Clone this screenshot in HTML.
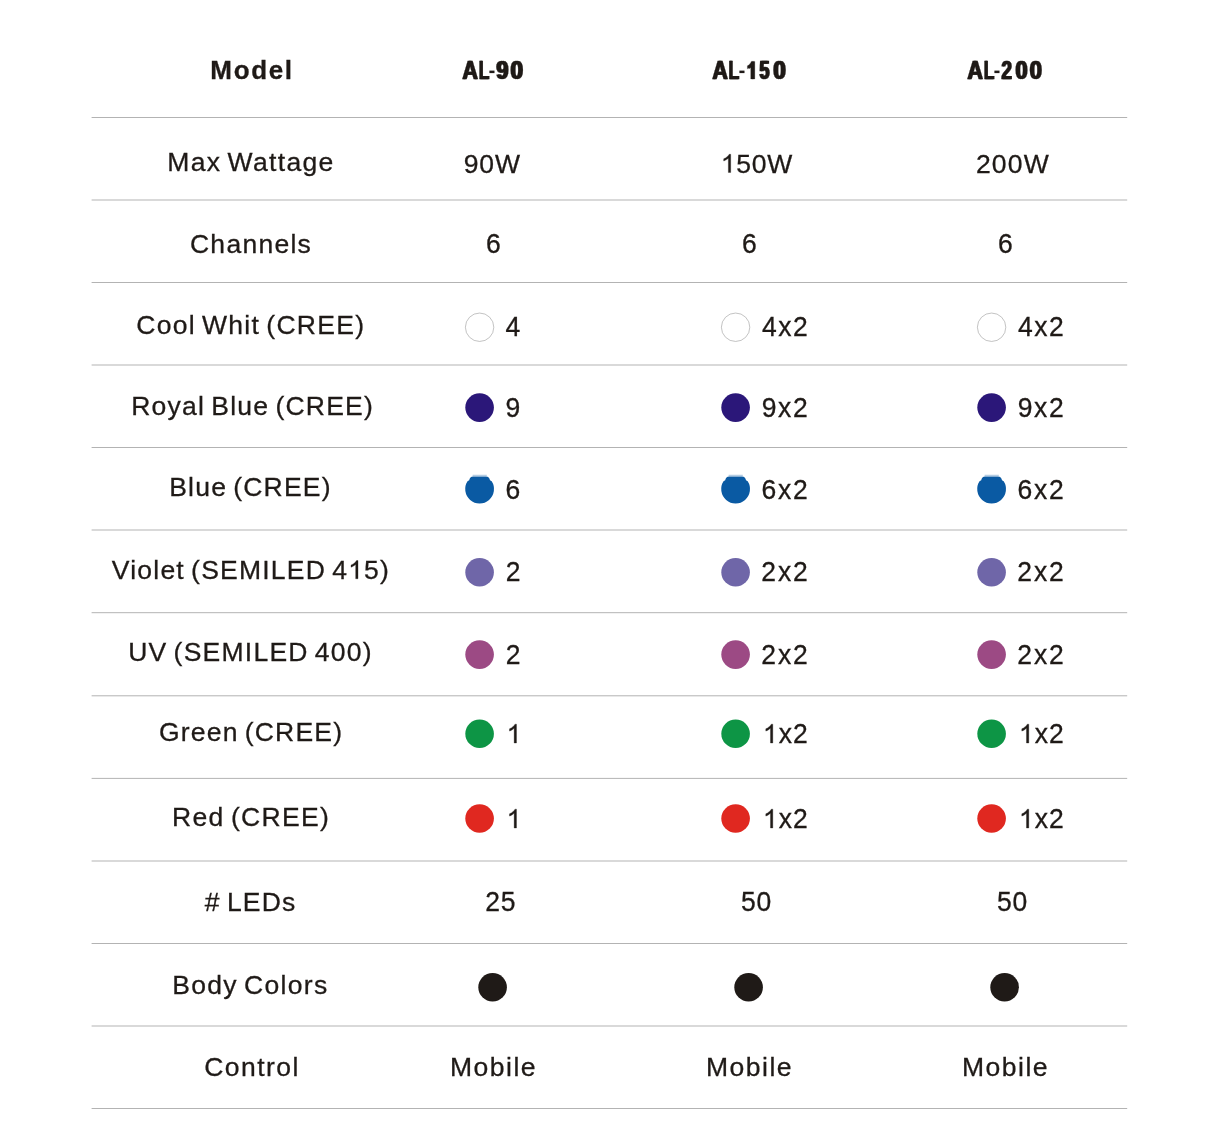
<!DOCTYPE html>
<html><head><meta charset="utf-8"><title>Model comparison</title>
<style>
html,body{margin:0;padding:0;background:#fff;}
body{width:1220px;height:1131px;overflow:hidden;font-family:"Liberation Sans",sans-serif;}
svg{display:block;position:absolute;left:0;top:0;will-change:transform;}
text{font-family:"Liberation Sans",sans-serif;font-size:26px;fill:#1f1a17;white-space:pre;word-spacing:-2.4px;stroke:#1f1a17;stroke-width:0.3px;}
.o{fill:#1f1a17;stroke:#1f1a17;stroke-width:24px;}
.b,.c{font-weight:bold;}
.h{fill:none;stroke:none;}
</style></head><body>
<svg width="1220" height="1131" viewBox="0 0 1220 1131">
<g stroke="#b3b3b3" stroke-width="1" fill="none">
<line x1="91.6" x2="1127.2" y1="117.5" y2="117.5"/>
<line x1="91.6" x2="1127.2" y1="200.0" y2="200.0"/>
<line x1="91.6" x2="1127.2" y1="282.5" y2="282.5"/>
<line x1="91.6" x2="1127.2" y1="365.0" y2="365.0"/>
<line x1="91.6" x2="1127.2" y1="447.5" y2="447.5"/>
<line x1="91.6" x2="1127.2" y1="530.0" y2="530.0"/>
<line x1="91.6" x2="1127.2" y1="612.7" y2="612.7"/>
<line x1="91.6" x2="1127.2" y1="695.8" y2="695.8"/>
<line x1="91.6" x2="1127.2" y1="778.4" y2="778.4"/>
<line x1="91.6" x2="1127.2" y1="861.0" y2="861.0"/>
<line x1="91.6" x2="1127.2" y1="943.5" y2="943.5"/>
<line x1="91.6" x2="1127.2" y1="1026.0" y2="1026.0"/>
<line x1="91.6" x2="1127.2" y1="1108.5" y2="1108.5"/>
</g>
<circle cx="479.6" cy="327.25" r="14.2" fill="#fff" stroke="#9a9a9a" stroke-width="0.6"/>
<circle cx="735.6" cy="327.25" r="14.2" fill="#fff" stroke="#9a9a9a" stroke-width="0.6"/>
<circle cx="991.6" cy="327.25" r="14.2" fill="#fff" stroke="#9a9a9a" stroke-width="0.6"/>
<circle cx="479.6" cy="407.6" r="14.3" fill="#2b1779"/>
<circle cx="735.6" cy="407.6" r="14.3" fill="#2b1779"/>
<circle cx="991.6" cy="407.6" r="14.3" fill="#2b1779"/>
<path fill="#0a5aa3" d="M467.5 481.2A14.4 14.4 0 1 0 491.7 481.2L490 480.2Q489.4 476.4 486 476.4L473.2 476.4Q469.8 476.4 469.2 480.2Z"/>
<line x1="472.6" x2="486.8" y1="475.3" y2="475.3" stroke="#0a5aa3" stroke-opacity="0.55" stroke-width="0.7"/>
<path fill="#0a5aa3" d="M723.5 481.2A14.4 14.4 0 1 0 747.7 481.2L746 480.2Q745.4 476.4 742 476.4L729.2 476.4Q725.8 476.4 725.2 480.2Z"/>
<line x1="728.6" x2="742.8" y1="475.3" y2="475.3" stroke="#0a5aa3" stroke-opacity="0.55" stroke-width="0.7"/>
<path fill="#0a5aa3" d="M979.5 481.2A14.4 14.4 0 1 0 1003.7 481.2L1002 480.2Q1001.4 476.4 998 476.4L985.2 476.4Q981.8 476.4 981.2 480.2Z"/>
<line x1="984.6" x2="998.8" y1="475.3" y2="475.3" stroke="#0a5aa3" stroke-opacity="0.55" stroke-width="0.7"/>
<circle cx="479.6" cy="572.25" r="14.3" fill="#6f66a8"/>
<circle cx="735.6" cy="572.25" r="14.3" fill="#6f66a8"/>
<circle cx="991.6" cy="572.25" r="14.3" fill="#6f66a8"/>
<circle cx="479.6" cy="654.6" r="14.3" fill="#9c4a84"/>
<circle cx="735.6" cy="654.6" r="14.3" fill="#9c4a84"/>
<circle cx="991.6" cy="654.6" r="14.3" fill="#9c4a84"/>
<circle cx="479.6" cy="733.75" r="14.3" fill="#0d9545"/>
<circle cx="735.6" cy="733.75" r="14.3" fill="#0d9545"/>
<circle cx="991.6" cy="733.75" r="14.3" fill="#0d9545"/>
<circle cx="479.6" cy="818.5" r="14.3" fill="#e02820"/>
<circle cx="735.6" cy="818.5" r="14.3" fill="#e02820"/>
<circle cx="991.6" cy="818.5" r="14.3" fill="#e02820"/>
<circle cx="492.6" cy="987.25" r="14.3" fill="#1f1a17"/>
<circle cx="748.6" cy="987.25" r="14.3" fill="#1f1a17"/>
<circle cx="1004.6" cy="987.25" r="14.3" fill="#1f1a17"/>
<g transform="translate(462.38 79) scale(0.8288 0.9850)"><text class="b" x="-0.75">A</text><text class="b" x="0.75">A</text></g>
<g transform="translate(478.64 79) scale(0.6670 0.9850)"><text class="b" x="-0.75">L</text><text class="b" x="0.75">L</text></g>
<rect x="489.4" y="70.6" width="5.1" height="2.5" fill="#1f1a17"/>
<g transform="translate(496.38 79) scale(0.8291 0.9850)"><text class="b" x="-1">9</text><text class="b" x="1">9</text></g>
<g transform="translate(510.68 79) scale(0.8562 0.9850)"><text class="b" x="-1">0</text><text class="b" x="1">0</text></g>
<g transform="translate(712.38 79) scale(0.8235 0.9850)"><text class="b" x="-0.75">A</text><text class="b" x="0.75">A</text></g>
<g transform="translate(728.53 79) scale(0.6737 0.9850)"><text class="b" x="-0.75">L</text><text class="b" x="0.75">L</text></g>
<rect x="739.4" y="70.6" width="5.1" height="2.5" fill="#1f1a17"/>
<g transform="translate(746.63 79) scale(0.7272 0.9850)"><path class="o" transform="translate(-1 0) scale(0.012695 -0.012152)" d="M806 0H525V1059Q371 915 162 846V1101Q272 1137 401 1237.5T578 1472H806Z"/><path class="o" transform="translate(1 0) scale(0.012695 -0.012152)" d="M806 0H525V1059Q371 915 162 846V1101Q272 1137 401 1237.5T578 1472H806Z"/></g>
<g transform="translate(759.54 79) scale(0.6896 0.9850)"><text class="b" x="-1">5</text><text class="b" x="1">5</text></g>
<g transform="translate(773.38 79) scale(0.8562 0.9850)"><text class="b" x="-1">0</text><text class="b" x="1">0</text></g>
<g transform="translate(967.38 79) scale(0.8288 0.9850)"><text class="b" x="-0.75">A</text><text class="b" x="0.75">A</text></g>
<g transform="translate(983.64 79) scale(0.6670 0.9850)"><text class="b" x="-0.75">L</text><text class="b" x="0.75">L</text></g>
<rect x="994.4" y="70.6" width="5.1" height="2.5" fill="#1f1a17"/>
<g transform="translate(1001.37 79) scale(0.7370 0.9850)"><text class="b" x="-1">2</text><text class="b" x="1">2</text></g>
<g transform="translate(1015.48 79) scale(0.8354 0.9850)"><text class="b" x="-1">0</text><text class="b" x="1">0</text></g>
<g transform="translate(1029.78 79) scale(0.8423 0.9850)"><text class="b" x="-1">0</text><text class="b" x="1">0</text></g>
<g transform="translate(210.34 79.25)"><text id="h0" class="b" style="letter-spacing:1.654px">Model</text></g>
<g transform="translate(167.24 170.75) scale(1.0200 1.0000)"><text id="l0" style="letter-spacing:1.311px">Max Wattage</text></g>
<g transform="translate(189.96 252.5) scale(1.0200 1.0000)"><text id="l1" style="letter-spacing:1.241px">Channels</text></g>
<g transform="translate(136.26 333.75) scale(1.0200 1.0000)"><text id="l2" style="letter-spacing:1.246px">Cool Whit (CREE)</text></g>
<g transform="translate(131.24 415) scale(1.0200 1.0000)"><text id="l3" style="letter-spacing:1.203px">Royal Blue (CREE)</text></g>
<g transform="translate(169.24 495.5) scale(1.0200 1.0000)"><text id="l4" style="letter-spacing:1.180px">Blue (CREE)</text></g>
<g transform="translate(111.8 578.75) scale(1.0200 1.0000)"><text id="l5" style="letter-spacing:1.195px">Violet (SEMILED 4<tspan class="h">1</tspan>5)</text><path class="o" transform="translate(231.7 0) scale(0.012695 -0.012378)" d="M763 0H583V1147Q518 1085 412.5 1023T223 930V1104Q374 1175 487 1276T647 1472H763Z"/></g>
<g transform="translate(128.16 660.5) scale(1.0200 1.0000)"><text id="l6" style="letter-spacing:1.211px">UV (SEMILED 400)</text></g>
<g transform="translate(158.92 740.5) scale(1.0200 1.0000)"><text id="l7" style="letter-spacing:1.174px">Green (CREE)</text></g>
<g transform="translate(172 825.5) scale(1.0200 1.0000)"><text id="l8" style="letter-spacing:1.315px">Red (CREE)</text></g>
<g transform="translate(204.84 910.75) scale(1.0200 1.0000)"><text id="l9" style="letter-spacing:1.172px"># LEDs</text></g>
<g transform="translate(172.24 993.9) scale(1.0200 1.0000)"><text id="l10" style="letter-spacing:1.275px">Body Colors</text></g>
<g transform="translate(204.26 1076) scale(1.0200 1.0000)"><text id="l11" style="letter-spacing:1.420px">Control</text></g>
<g transform="translate(463.68 172.5) scale(1.0200 1.0000)"><text id="w0" style="letter-spacing:0.884px">90W</text></g>
<g transform="translate(720.81 172.5) scale(1.0200 1.0000)"><text id="w1" style="letter-spacing:0.681px"><tspan class="h">1</tspan>50W</text><path class="o" transform="translate(0 0) scale(0.012695 -0.012378)" d="M763 0H583V1147Q518 1085 412.5 1023T223 930V1104Q374 1175 487 1276T647 1472H763Z"/></g>
<g transform="translate(975.89 172.5) scale(1.0200 1.0000)"><text id="w2" style="letter-spacing:1.188px">200W</text></g>
<g transform="translate(485.97 252.5) scale(1.0200 1.0350)"><text id="c0" style="letter-spacing:1.000px">6</text></g>
<g transform="translate(450 1075.6) scale(1.0200 1.0000)"><text id="m0" style="letter-spacing:1.460px">Mobile</text></g>
<g transform="translate(741.97 252.5) scale(1.0200 1.0350)"><text id="c1" style="letter-spacing:1.000px">6</text></g>
<g transform="translate(706 1075.6) scale(1.0200 1.0000)"><text id="m1" style="letter-spacing:1.460px">Mobile</text></g>
<g transform="translate(997.97 252.5) scale(1.0200 1.0350)"><text id="c2" style="letter-spacing:1.000px">6</text></g>
<g transform="translate(962 1075.6) scale(1.0200 1.0000)"><text id="m2" style="letter-spacing:1.460px">Mobile</text></g>
<g transform="translate(485.14 910.75) scale(1.0200 1.0350)"><text id="n0" style="letter-spacing:0.796px">25</text></g>
<g transform="translate(740.94 910.75) scale(1.0200 1.0350)"><text id="n1" style="letter-spacing:0.844px">50</text></g>
<g transform="translate(996.94 910.75) scale(1.0200 1.0350)"><text id="n2" style="letter-spacing:0.844px">50</text></g>
<g transform="translate(505.53 336.25) scale(1.0200 1.0350)"><text id="v0_0" style="letter-spacing:1.000px">4</text></g>
<g transform="translate(761.97 336.25) scale(1.0200 1.0350)"><text id="v0_1" style="letter-spacing:1.431px">4x2</text></g>
<g transform="translate(1017.97 336.25) scale(1.0200 1.0350)"><text id="v0_2" style="letter-spacing:1.431px">4x2</text></g>
<g transform="translate(505.61 416.75) scale(1.0200 1.0350)"><text id="v1_0" style="letter-spacing:1.000px">9</text></g>
<g transform="translate(761.66 416.75) scale(1.0200 1.0350)"><text id="v1_1" style="letter-spacing:1.607px">9x2</text></g>
<g transform="translate(1017.66 416.75) scale(1.0200 1.0350)"><text id="v1_2" style="letter-spacing:1.607px">9x2</text></g>
<g transform="translate(505.53 498.75) scale(1.0200 1.0350)"><text id="v2_0" style="letter-spacing:1.000px">6</text></g>
<g transform="translate(761.6 498.75) scale(1.0200 1.0350)"><text id="v2_1" style="letter-spacing:1.638px">6x2</text></g>
<g transform="translate(1017.6 498.75) scale(1.0200 1.0350)"><text id="v2_2" style="letter-spacing:1.638px">6x2</text></g>
<g transform="translate(505.64 581.25) scale(1.0200 1.0350)"><text id="v3_0" style="letter-spacing:1.000px">2</text></g>
<g transform="translate(761.33 581.25) scale(1.0200 1.0350)"><text id="v3_1" style="letter-spacing:1.778px">2x2</text></g>
<g transform="translate(1017.33 581.25) scale(1.0200 1.0350)"><text id="v3_2" style="letter-spacing:1.778px">2x2</text></g>
<g transform="translate(505.64 663.75) scale(1.0200 1.0350)"><text id="v4_0" style="letter-spacing:1.000px">2</text></g>
<g transform="translate(761.33 663.75) scale(1.0200 1.0350)"><text id="v4_1" style="letter-spacing:1.778px">2x2</text></g>
<g transform="translate(1017.33 663.75) scale(1.0200 1.0350)"><text id="v4_2" style="letter-spacing:1.778px">2x2</text></g>
<g transform="translate(506.61 743) scale(1.0200 1.0350)"><text id="v5_0" style="letter-spacing:1.000px"><tspan class="h">1</tspan></text><path class="o" transform="translate(0 0) scale(0.012695 -0.012378)" d="M763 0H583V1147Q518 1085 412.5 1023T223 930V1104Q374 1175 487 1276T647 1472H763Z"/></g>
<g transform="translate(762.92 743) scale(1.0200 1.0350)"><text id="v5_1" style="letter-spacing:0.989px"><tspan class="h">1</tspan>x2</text><path class="o" transform="translate(0 0) scale(0.012695 -0.012378)" d="M763 0H583V1147Q518 1085 412.5 1023T223 930V1104Q374 1175 487 1276T647 1472H763Z"/></g>
<g transform="translate(1018.92 743) scale(1.0200 1.0350)"><text id="v5_2" style="letter-spacing:0.989px"><tspan class="h">1</tspan>x2</text><path class="o" transform="translate(0 0) scale(0.012695 -0.012378)" d="M763 0H583V1147Q518 1085 412.5 1023T223 930V1104Q374 1175 487 1276T647 1472H763Z"/></g>
<g transform="translate(506.61 828) scale(1.0200 1.0350)"><text id="v6_0" style="letter-spacing:1.000px"><tspan class="h">1</tspan></text><path class="o" transform="translate(0 0) scale(0.012695 -0.012378)" d="M763 0H583V1147Q518 1085 412.5 1023T223 930V1104Q374 1175 487 1276T647 1472H763Z"/></g>
<g transform="translate(762.92 828) scale(1.0200 1.0350)"><text id="v6_1" style="letter-spacing:0.989px"><tspan class="h">1</tspan>x2</text><path class="o" transform="translate(0 0) scale(0.012695 -0.012378)" d="M763 0H583V1147Q518 1085 412.5 1023T223 930V1104Q374 1175 487 1276T647 1472H763Z"/></g>
<g transform="translate(1018.92 828) scale(1.0200 1.0350)"><text id="v6_2" style="letter-spacing:0.989px"><tspan class="h">1</tspan>x2</text><path class="o" transform="translate(0 0) scale(0.012695 -0.012378)" d="M763 0H583V1147Q518 1085 412.5 1023T223 930V1104Q374 1175 487 1276T647 1472H763Z"/></g>
</svg>
</body></html>
